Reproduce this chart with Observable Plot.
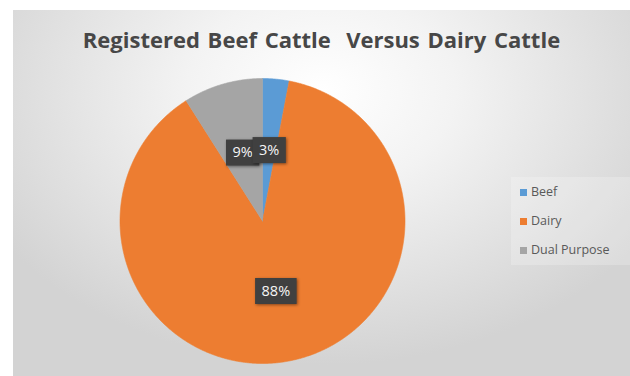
<!DOCTYPE html>
<html><head><meta charset="utf-8">
<script src="https://cdn.jsdelivr.net/npm/d3@7"></script>
<script src="https://cdn.jsdelivr.net/npm/@observablehq/plot@0.6"></script>
<style>
body{margin:0;background:#fff;}
#wrap{position:relative;width:630px;height:376px;overflow:hidden;background:#fff;font-family:"Open Sans",sans-serif;}
#bg{position:absolute;left:13px;top:10px;right:0;bottom:0;
  background:radial-gradient(ellipse 62% 75% at 50% 22%, #ffffff 0%, #f3f3f3 35%, #d3d3d3 100%);}
#title{position:absolute;left:13px;right:0;top:24px;text-align:center;font-weight:700;font-size:22px;word-spacing:2px;color:#474747;white-space:pre;}
#legend{position:absolute;left:511px;top:177px;width:119px;height:88px;background:rgba(255,255,255,0.22);}
.item{position:absolute;left:9px;display:flex;align-items:center;font-size:12.5px;color:#595959;line-height:16px;}
.sw{width:7px;height:7px;margin-right:4px;}
#chart{position:absolute;left:0;top:0;}
</style>
</head><body>
<div id="wrap"><div id="bg"></div><div id="title"></div><div id="legend"></div><div id="chart"></div></div>
<script>
const title = "Registered Beef Cattle  Versus Dairy Cattle";
const categories = ["Beef", "Dairy", "Dual Purpose"];
const values = [3, 88, 9];
const labels = ["3%", "88%", "9%"];
const colors = ["#5B9BD5", "#ED7D31", "#A5A5A5"];

document.getElementById("title").textContent = title;

const rows = categories.map((c, i) => ({cat: c, value: values[i], label: labels[i]}));
const arcs = d3.pie().sort(null).value(d => d.value)(rows);

// polygon outline per slice, in unit-circle data space (angle 0 at 12 o'clock, clockwise)
const pts = [];
for (const a of arcs) {
  const n = Math.max(2, Math.ceil((a.endAngle - a.startAngle) / 0.005));
  pts.push({cat: a.data.cat, x: 0, y: 0});
  for (let k = 0; k <= n; k++) {
    const t = a.startAngle + (a.endAngle - a.startAngle) * k / n;
    pts.push({cat: a.data.cat, x: Math.sin(t), y: Math.cos(t)});
  }
  pts.push({cat: a.data.cat, x: 0, y: 0});
}
const labelRows = arcs.map(a => {
  const m = (a.startAngle + a.endAngle) / 2;
  return {label: a.data.label, x: 0.5 * Math.sin(m), y: 0.5 * Math.cos(m)};
}).reverse();

const cv = document.createElement("canvas").getContext("2d");
cv.font = "14.5px 'Open Sans'";

const plot = Plot.plot({
  width: 630, height: 376,
  marginLeft: 119.5, marginRight: 225.5, marginTop: 78, marginBottom: 13,
  style: {background: "transparent", overflow: "visible"},
  x: {domain: [-1, 1], axis: null},
  y: {domain: [-1, 1], axis: null},
  color: {domain: categories, range: colors},
  marks: [
    Plot.line(pts, {x: "x", y: "y", z: "cat", fill: "cat", stroke: "cat", strokeWidth: 0.6}),
    Plot.text(labelRows, {
      x: "x", y: "y", text: "label", fill: "#f6f6f6", fontSize: 14.5, fontFamily: "Open Sans",
      render(index, scales, vals, dims, ctx, next) {
        const g = next(index, scales, vals, dims, ctx);
        const texts = g.querySelectorAll("text");
        index.forEach((i, k) => {
          const t = texts[k];
          const w = cv.measureText(labelRows[i].label).width + 13;
          const r = document.createElementNS("http://www.w3.org/2000/svg", "rect");
          r.setAttribute("x", vals.x[i] - w / 2);
          r.setAttribute("y", vals.y[i] - 13);
          r.setAttribute("width", w);
          r.setAttribute("height", 26);
          r.setAttribute("fill", "#404040");
          r.style.filter = "drop-shadow(1.5px 1.5px 1.5px rgba(0,0,0,0.45))";
          t.parentNode.insertBefore(r, t);
        });
        return g;
      }
    })
  ]
});
document.getElementById("chart").appendChild(plot);

const scale = plot.scale("color");
const legend = document.getElementById("legend");
categories.forEach((c, i) => {
  const it = document.createElement("div");
  it.className = "item";
  it.style.top = (7 + i * 29) + "px";
  const sw = document.createElement("span");
  sw.className = "sw";
  sw.style.background = scale.apply(c);
  const tx = document.createElement("span");
  tx.textContent = c;
  it.appendChild(sw); it.appendChild(tx);
  legend.appendChild(it);
});
</script>
</body></html>
